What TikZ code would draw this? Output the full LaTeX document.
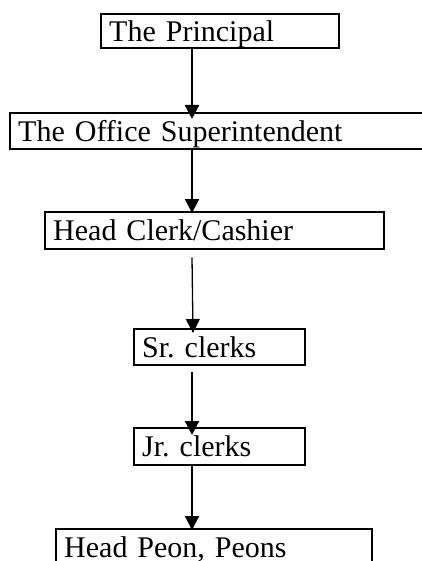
\documentclass[tikz,border=0pt]{standalone}
\usepackage{fontspec}
\setmainfont{Liberation Serif}
\usetikzlibrary{arrows.meta}
\begin{document}
\frenchspacing
\begin{tikzpicture}[x=1pt,y=-1pt,
    post/.style={draw,line width=2.4pt,rectangle,anchor=north west,inner xsep=8pt,inner ysep=0pt,
      text height=22pt,text depth=2pt,align=left,font=\fontsize{30}{36}\selectfont},
    link/.style={line width=2.2pt,-{Triangle[length=14pt,width=14pt]}}]
      \useasboundingbox (0,0) rectangle (422,561);
      \clip (0,0) rectangle (422,561);
      \coordinate (spine) at (192,0);
      \draw
        (100,13) node[post,minimum width=238,minimum height=34,text width=222pt] (principal){The Principal}
        (9,112) node[post,minimum width=440,minimum height=36,text width=424pt] (super){The Office Superintendent}
        (44,211) node[post,minimum width=339,minimum height=37,text width=323pt] (headclerk){Head Clerk/Cashier}
        (133,328) node[post,minimum width=171,minimum height=36,text width=155pt] (srclerks){Sr. clerks}
        (133,427) node[post,minimum width=171,minimum height=37,text width=155pt] (jrclerks){Jr. clerks}
        (55,528) node[post,minimum width=316,minimum height=37,text width=300pt] (peons){Head Peon, Peons};
      \begin{scope}[link]
        \draw (principal.south -| spine) to ([yshift=-7pt]super.north -| spine);
        \draw (super.south -| spine) to ([yshift=-2pt]headclerk.north -| spine);
        \draw[line width=1.3pt] ([yshift=-7pt]headclerk.south -| spine) to ([xshift=1pt,yshift=-5pt]srclerks.north -| spine);
        \draw ([yshift=-6pt]srclerks.south -| spine) to ([yshift=-8pt]jrclerks.north -| spine);
        \draw (jrclerks.south -| spine) to ([yshift=-2pt]peons.north -| spine);
      \end{scope}
    \end{tikzpicture}
\end{document}
